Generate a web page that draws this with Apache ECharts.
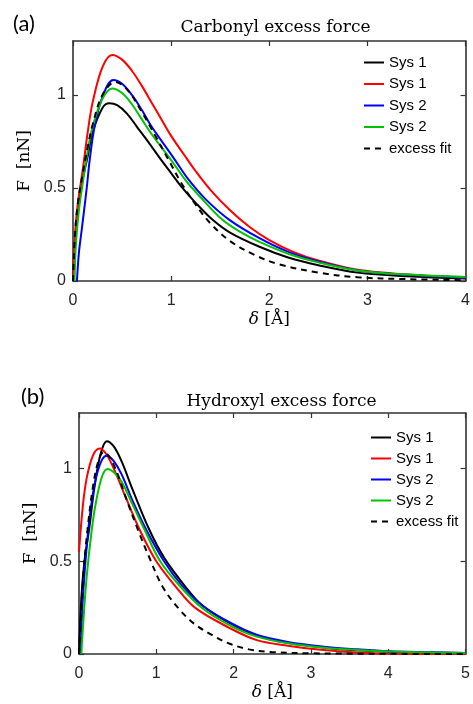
<!DOCTYPE html>
<html>
<head>
<meta charset="utf-8">
<script src="https://cdn.jsdelivr.net/npm/echarts@6/dist/echarts.min.js"></script>
<style>html,body{margin:0;padding:0;background:#fff;}#c{width:473px;height:704px;}</style>
</head>
<body>
<div id="c"></div>
<script>
// ---------- Data (a) Carbonyl ----------
const carbTicksX = [0, 1, 2, 3, 4];
const carbTicksY = [0, 0.5, 1];
const carbS1aX = [0,0.02,0.05,0.1,0.15,0.2,0.3,0.37,0.45,0.55,0.65,0.75,0.9,1.0,1.1,1.25,1.42,1.6,1.9,2.2,2.5,2.9,3.4,4.0];
const carbS1aY = [0,0.2,0.38,0.55,0.67,0.8,0.93,0.955,0.945,0.9,0.83,0.76,0.65,0.58,0.51,0.42,0.33,0.26,0.184,0.125,0.085,0.045,0.025,0.013];
const carbS1bX = [0,0.02,0.05,0.1,0.15,0.2,0.3,0.4,0.5,0.6,0.7,0.8,0.9,1.0,1.13,1.25,1.4,1.6,1.8,2.0,2.25,2.5,2.9,3.4,4.0];
const carbS1bY = [0,0.25,0.42,0.6,0.8,0.96,1.15,1.215,1.19,1.13,1.05,0.96,0.87,0.78,0.68,0.59,0.49,0.38,0.29,0.22,0.155,0.11,0.06,0.035,0.018];
const carbS2aX = [0.04,0.06,0.09,0.14,0.17,0.22,0.3,0.41,0.5,0.6,0.7,0.8,0.92,1.04,1.17,1.35,1.59,1.9,2.2,2.5,2.9,3.4,4.0];
const carbS2aY = [0,0.15,0.28,0.5,0.65,0.83,0.99,1.08,1.06,1.0,0.92,0.83,0.74,0.65,0.55,0.44,0.33,0.23,0.155,0.105,0.057,0.033,0.018];
const carbS2bX = [0.015,0.03,0.06,0.1,0.15,0.2,0.3,0.4,0.5,0.6,0.7,0.8,1.0,1.15,1.3,1.52,1.7,1.9,2.2,2.5,2.9,3.4,4.0];
const carbS2bY = [0,0.2,0.38,0.53,0.7,0.83,0.98,1.035,1.01,0.95,0.87,0.79,0.65,0.54,0.45,0.33,0.265,0.21,0.145,0.1,0.057,0.035,0.022];
const carbFitX = [0,0.02,0.05,0.1,0.15,0.2,0.3,0.43,0.55,0.7,0.85,0.975,1.1,1.25,1.4,1.6,1.85,2.1,2.5,2.9,3.4,4.0];
const carbFitY = [0,0.25,0.42,0.58,0.72,0.84,1.0,1.07,1.03,0.91,0.77,0.65,0.53,0.41,0.31,0.215,0.14,0.09,0.045,0.02,0.01,0.004];

// ---------- Data (b) Hydroxyl ----------
const hydTicksX = [0, 1, 2, 3, 4, 5];
const hydTicksY = [0, 0.5, 1];
const hydS1aX = [0,0.03,0.07,0.13,0.2,0.28,0.36,0.45,0.55,0.7,0.91,1.1,1.375,1.6,1.95,2.3,2.7,3.2,3.6,4.0,4.5,5.0];
const hydS1aY = [0,0.3,0.5,0.67,0.9,1.08,1.148,1.12,1.04,0.88,0.67,0.52,0.364,0.26,0.166,0.1,0.06,0.033,0.02,0.012,0.008,0.005];
const hydS1bX = [0,0.05,0.1,0.18,0.266,0.35,0.45,0.6,0.785,1.0,1.25,1.5,1.95,2.3,2.7,3.2,3.6,4.0,5.0];
const hydS1bY = [0.55,0.8,0.95,1.07,1.108,1.08,1.0,0.85,0.67,0.5,0.364,0.25,0.14,0.075,0.045,0.02,0.008,0.002,0];
const hydS2aX = [0.02,0.05,0.1,0.15,0.22,0.3,0.363,0.45,0.55,0.7,0.87,1.1,1.33,1.6,1.95,2.29,2.7,3.2,3.6,4.0,4.5,5.0];
const hydS2aY = [0,0.3,0.58,0.78,0.95,1.05,1.07,1.04,0.97,0.82,0.67,0.5,0.37,0.26,0.17,0.105,0.065,0.038,0.025,0.015,0.01,0.006];
const hydS2bX = [0.03,0.06,0.1,0.165,0.22,0.3,0.371,0.45,0.55,0.7,0.848,1.05,1.31,1.6,1.95,2.29,2.7,3.2,3.6,4.0,4.5,5.0];
const hydS2bY = [0,0.2,0.42,0.67,0.82,0.96,0.998,0.98,0.93,0.8,0.67,0.5,0.364,0.245,0.155,0.095,0.058,0.033,0.022,0.014,0.009,0.005];
const hydFitX = [0,0.03,0.06,0.11,0.18,0.25,0.32,0.4,0.5,0.6,0.763,0.9,1.08,1.3,1.5,1.73,1.95,2.2,2.5,3.0,4.0,5.0];
const hydFitY = [0,0.25,0.45,0.67,0.9,1.04,1.09,1.06,0.97,0.85,0.67,0.53,0.364,0.24,0.16,0.1,0.055,0.025,0.01,0.004,0.001,0];

const legendNames = ['Sys 1', 'Sys 1\u200B', 'Sys 2', 'Sys 2\u200B', 'excess fit'];
const colors = ['#000000', '#ff0000', '#0000ff', '#00c400', '#000000'];

const zip = (xs, ys) => xs.map((x, i) => [x, ys[i]]);
const AX = '#333333';
const SANS = 'Liberation Sans, Arial, sans-serif';
const SERIF = 'DejaVu Serif, Liberation Serif, serif';

function mkX(grid, max, ticks, pos, showLabel) {
  return {
    type: 'value', gridIndex: grid, min: 0, max: max, interval: 1, position: pos,
    axisLine: { show: true, onZero: false, lineStyle: { color: AX, width: 1.6 } },
    axisTick: { show: true, inside: true, length: 5, customValues: ticks, lineStyle: { color: AX, width: 1.2 } },
    axisLabel: { show: showLabel, customValues: ticks, margin: 12, color: '#262626', fontSize: 16, fontFamily: SANS },
    splitLine: { show: false },
    name: showLabel ? '{i|δ} [Å]' : '', nameLocation: 'middle', nameGap: 30,
    nameTextStyle: { fontFamily: SERIF, fontSize: 17, color: '#000', rich: { i: { fontFamily: SERIF, fontStyle: 'italic', fontSize: 17 } } }
  };
}
function mkY(grid, max, ticks, pos, showLabel, gap) {
  return {
    type: 'value', gridIndex: grid, min: 0, max: max, position: pos,
    axisLine: { show: true, onZero: false, lineStyle: { color: AX, width: 1.6 } },
    axisTick: { show: true, inside: true, length: 5, customValues: ticks, lineStyle: { color: AX, width: 1.2 } },
    axisLabel: { show: showLabel, customValues: ticks, margin: 7, color: '#262626', fontSize: 16, fontFamily: SANS },
    splitLine: { show: false },
    name: showLabel ? 'F  [nN]' : '', nameLocation: 'middle', nameGap: gap,
    nameTextStyle: { fontFamily: SERIF, fontSize: 17, color: '#000' }
  };
}
function mkSeries(name, idx, xs, ys, axis, dashed) {
  return {
    type: 'line', name: name, xAxisIndex: axis, yAxisIndex: axis, data: zip(xs, ys),
    showSymbol: false, symbol: 'none', smooth: 0.35,
    lineStyle: { color: colors[idx], width: 2, type: dashed ? [6, 5] : 'solid' },
    itemStyle: { color: colors[idx] }, z: 2 + idx, silent: true, animation: false
  };
}
function mkLegend(left, top, gap) {
  return {
    data: legendNames, orient: 'vertical', left: left, top: top, padding: 0,
    itemWidth: 20, itemHeight: 14, itemGap: gap, selectedMode: false,
    itemStyle: { opacity: 0, borderWidth: 0 },
    textStyle: { fontSize: 15, fontFamily: SANS, color: '#000' }
  };
}

const chart = echarts.init(document.getElementById('c'), null, { renderer: 'canvas' });
chart.setOption({
  animation: false,
  backgroundColor: '#fff',
  title: [
    { text: 'Carbonyl excess force', left: 270.5, top: 14, textAlign: 'center', textStyle: { fontFamily: SERIF, fontSize: 17, fontWeight: 'normal', color: '#000' } },
    { text: 'Hydroxyl excess force', left: 276.5, top: 388, textAlign: 'center', textStyle: { fontFamily: SERIF, fontSize: 17, fontWeight: 'normal', color: '#000' } },
    { text: '(a)', left: 8, top: 8, textStyle: { fontFamily: 'Lato, Open Sans, sans-serif', fontSize: 22, fontWeight: 'normal', color: '#000' } },
    { text: '(b)', left: 16, top: 381, textStyle: { fontFamily: 'Lato, Open Sans, sans-serif', fontSize: 22, fontWeight: 'normal', color: '#000' } }
  ],
  legend: [mkLegend(363, 55, 6.5), mkLegend(370, 430, 6)],
  grid: [
    { left: 73, top: 41, width: 395, height: 240, containLabel: false },
    { left: 79, top: 413, width: 395, height: 241, containLabel: false }
  ],
  xAxis: [
    mkX(0, 4, carbTicksX, 'bottom', true),
    mkX(0, 4, carbTicksX, 'top', false),
    mkX(1, 5, hydTicksX, 'bottom', true),
    mkX(1, 5, hydTicksX, 'top', false)
  ],
  yAxis: [
    mkY(0, 1.29, carbTicksY, 'left', true, 32),
    mkY(0, 1.29, carbTicksY, 'right', false, 0),
    mkY(1, 1.30, hydTicksY, 'left', true, 32),
    mkY(1, 1.30, hydTicksY, 'right', false, 0)
  ],
  series: [
    mkSeries(legendNames[0], 0, carbS1aX, carbS1aY, 0, false),
    mkSeries(legendNames[1], 1, carbS1bX, carbS1bY, 0, false),
    mkSeries(legendNames[2], 2, carbS2aX, carbS2aY, 0, false),
    mkSeries(legendNames[3], 3, carbS2bX, carbS2bY, 0, false),
    mkSeries(legendNames[4], 4, carbFitX, carbFitY, 0, true),
    mkSeries(legendNames[0], 0, hydS1aX, hydS1aY, 2, false),
    mkSeries(legendNames[1], 1, hydS1bX, hydS1bY, 2, false),
    mkSeries(legendNames[2], 2, hydS2aX, hydS2aY, 2, false),
    mkSeries(legendNames[3], 3, hydS2bX, hydS2bY, 2, false),
    mkSeries(legendNames[4], 4, hydFitX, hydFitY, 2, true)
  ]
});
</script>
</body>
</html>
